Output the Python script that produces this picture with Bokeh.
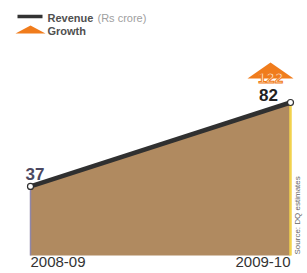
from bokeh.plotting import figure
from bokeh.models import Range1d, ColumnDataSource
from bokeh.core.properties import value
from bokeh.embed import file_html
from bokeh.resources import INLINE
import math

# ---- data ----
categories = ["2008-09", "2009-10"]
revenue = [37, 82]
growth = [122]
legend_labels = ["Revenue", "(Rs crore)", "Growth"]
source_note = "Source: DQ estimates"

# ---- layout helpers ----
W, H = 307, 273
X0, X1 = 30, 290          # pixel position of first/last category
BASE = 18                 # pixels of zero above bottom
SX = X1 - X0
SY = (171 - BASE) / 82.0

def X(px):                # picture x -> data x
    return (px - X0) / SX

def Y(py):                # picture y -> data y
    return ((H - py) - BASE) / SY

xs = list(range(len(categories)))

p = figure(width=W, height=H, output_backend="svg", toolbar_location=None,
           x_range=Range1d(-X0 / SX, (W - X0) / SX),
           y_range=Range1d(-BASE / SY, (H - BASE) / SY),
           x_axis_location=None, y_axis_location=None, min_border=0)
p.grid.visible = False
p.outline_line_color = None
p.background_fill_color = "white"
p.border_fill_color = "white"

FONT = value("Liberation Sans")

# area
p.varea(x=xs, y1=[0] * len(xs), y2=revenue, fill_color="#b08a60")
p.segment(x0=[xs[0]], y0=[0], x1=[xs[0]], y1=[revenue[0]], line_color="#8f86a8", line_width=1.5)
p.segment(x0=[xs[-1]], y0=[0], x1=[xs[-1]], y1=[revenue[-1]], line_color="#f2d24c", line_width=2.5)

# revenue line
p.line(xs, revenue, line_color="#303030", line_width=4.5)
p.scatter(xs, revenue, size=6, fill_color="white", line_color="#303030", line_width=1.2)

# value labels
p.text(x=[xs[0]], y=[revenue[0]], text=[str(revenue[0])], text_font=FONT, text_font_style="bold",
       text_font_size="17px", text_color="#4b4860", text_align="left", text_baseline="alphabetic",
       x_offset=-5, y_offset=-12)
p.text(x=[xs[-1]], y=[revenue[-1]], text=[str(revenue[-1])], text_font=FONT, text_font_style="bold",
       text_font_size="17px", text_color="#222222", text_align="center", text_baseline="alphabetic",
       x_offset=-22, y_offset=-8)

# growth triangle
tcx = xs[-1] - 20 / SX
tbase = revenue[-1] + 24 / SY
tapex = revenue[-1] + 40 / SY
p.patch(x=[tcx - 23 / SX, tcx, tcx + 23 / SX], y=[tbase, tapex, tbase],
        fill_color="#f07c1c", line_color=None)
p.text(x=[tcx], y=[tbase], text=[str(growth[0])], text_font=FONT, text_font_style="bold",
       text_font_size="15px", text_color="#fde6c6", text_outline_color="#f07c1c",
       text_align="center", text_baseline="alphabetic", y_offset=-1)

# category labels
cat_src = ColumnDataSource(dict(x=xs, y=[0] * len(xs), t=categories, a=["left", "right"]))
p.text(x="x", y="y", text="t", text_align="a", source=cat_src, text_font=FONT,
       text_font_size="15px", text_color="#333333", text_baseline="top", y_offset=1)

# source note
p.text(x=[xs[-1]], y=[0], text=[source_note], angle=math.pi / 2, text_font=FONT,
       text_font_size="8px", text_color="#666666", text_align="left", text_baseline="middle",
       x_offset=7, y_offset=-1)

# legend
p.line([X(17), X(42)], [Y(16), Y(16)], line_color="#333333", line_width=3.5)
p.patch([X(15), X(30), X(45)], [Y(33), Y(25), Y(33)], fill_color="#f07c1c", line_color=None)
p.text(x=[X(47)], y=[Y(17)], text=[legend_labels[0]], text_font=FONT, text_font_style="bold",
       text_font_size="11px", text_color="#505050", text_baseline="middle")
p.text(x=[X(97)], y=[Y(17)], text=[legend_labels[1]], text_font=FONT,
       text_font_size="11px", text_color="#a0a0a0", text_baseline="middle")
p.text(x=[X(47)], y=[Y(30)], text=[legend_labels[2]], text_font=FONT, text_font_style="bold",
       text_font_size="11px", text_color="#505050", text_baseline="middle")

open("out.html", "w").write(file_html(p, INLINE))
